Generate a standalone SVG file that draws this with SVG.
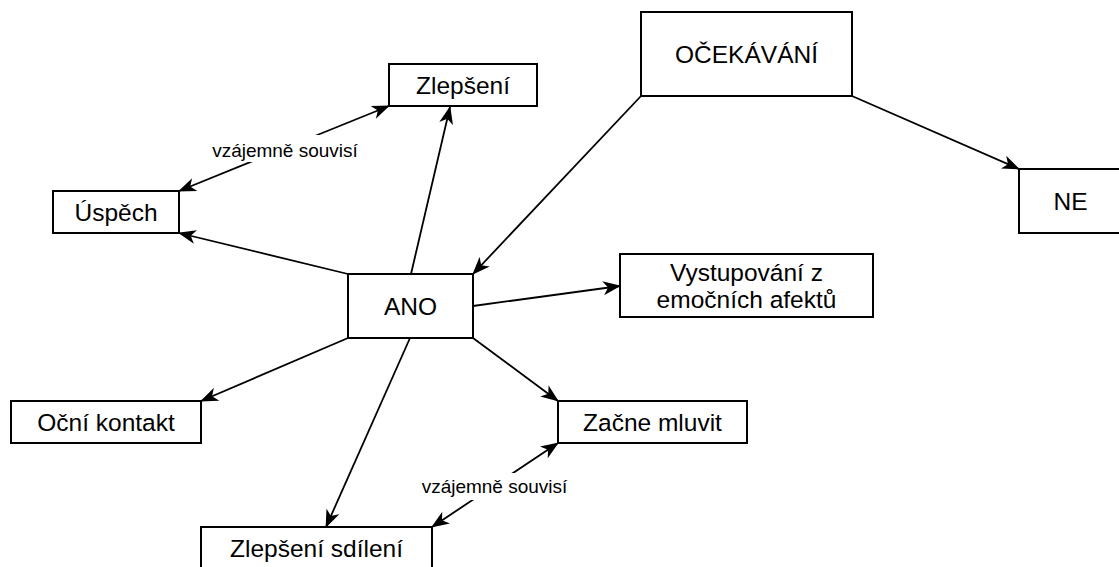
<svg xmlns="http://www.w3.org/2000/svg" width="1119" height="567" viewBox="0 0 1119 567">
  <style>
    .box { fill: #ffffff; stroke: #000000; stroke-width: 2; }
    .txt { font-family: "Liberation Sans", Arial, Helvetica, sans-serif; font-size: 24.5px; fill: #000000; text-anchor: middle; }
    .edge { fill: none; stroke: #000000; stroke-width: 1.8; marker-end: url(#arrow); }
    .both { marker-start: url(#arrow); }
    .lbl { font-family: "Liberation Sans", Arial, Helvetica, sans-serif; font-size: 19px; fill: #000000; text-anchor: middle; }
    .lblbg { fill: #ffffff; stroke: none; }
  </style>
  <defs>
    <!-- classic notched arrowhead, tip at the path end -->
    <marker id="arrow" markerUnits="userSpaceOnUse" markerWidth="18" markerHeight="14" viewBox="0 0 18 14" refX="17" refY="7" orient="auto-start-reverse">
      <path d="M18,7 L0,0 L5,7 L0,14 Z" fill="#000000"/>
    </marker>
  </defs>
  <rect width="1119" height="567" fill="#ffffff"/>

  <g id="connectors">
    <line class="edge" x1="641" y1="96" x2="473" y2="274"/>
    <line class="edge" x1="852" y1="96" x2="1019" y2="169"/>
    <line class="edge" x1="411" y1="274" x2="450" y2="107"/>
    <line class="edge" x1="348" y1="274" x2="179" y2="233"/>
    <line class="edge" x1="473" y1="306" x2="620" y2="286"/>
    <line class="edge" x1="473" y1="338" x2="558" y2="401"/>
    <line class="edge" x1="348" y1="338" x2="201" y2="401"/>
    <line class="edge" x1="410" y1="338" x2="326" y2="527"/>
    <line class="edge both" x1="179" y1="191" x2="389" y2="106"/>
    <line class="edge both" x1="558" y1="443" x2="432" y2="527"/>
    <g id="label-uspech-zlepseni">
      <rect class="lblbg" x="212" y="135" width="146" height="27"/>
      <text class="lbl" x="285" y="157">vzájemně souvisí</text>
    </g>
    <g id="label-zacne-sdileni">
      <rect class="lblbg" x="422" y="473" width="145" height="27"/>
      <text class="lbl" x="494.5" y="493">vzájemně souvisí</text>
    </g>
  </g>

  <g id="ocekavani">
    <rect class="box" x="641" y="12" width="211" height="84"/>
    <text class="txt" x="746.5" y="63">OČEKÁVÁNÍ</text>
  </g>
  <g id="ne">
    <rect class="box" x="1019" y="169" width="104" height="64"/>
    <text class="txt" x="1070.5" y="210">NE</text>
  </g>
  <g id="ano">
    <rect class="box" x="348" y="274" width="125" height="64"/>
    <text class="txt" x="410.5" y="315">ANO</text>
  </g>
  <g id="zlepseni">
    <rect class="box" x="389" y="64" width="148" height="42"/>
    <text class="txt" x="463" y="94">Zlepšení</text>
  </g>
  <g id="uspech">
    <rect class="box" x="53" y="191" width="126" height="42"/>
    <text class="txt" x="116" y="221">Úspěch</text>
  </g>
  <g id="vystupovani">
    <rect class="box" x="620" y="254" width="253" height="63"/>
    <text class="txt" x="746.5" y="281">Vystupování z</text>
    <text class="txt" x="746.5" y="308">emočních afektů</text>
  </g>
  <g id="ocni-kontakt">
    <rect class="box" x="11" y="401" width="190" height="42"/>
    <text class="txt" x="106" y="430.5">Oční kontakt</text>
  </g>
  <g id="zacne-mluvit">
    <rect class="box" x="558" y="401" width="189" height="42"/>
    <text class="txt" x="652.5" y="430.5">Začne mluvit</text>
  </g>
  <g id="zlepseni-sdileni">
    <rect class="box" x="201" y="527" width="231" height="42"/>
    <text class="txt" x="316.5" y="556.5">Zlepšení sdílení</text>
  </g>
</svg>
